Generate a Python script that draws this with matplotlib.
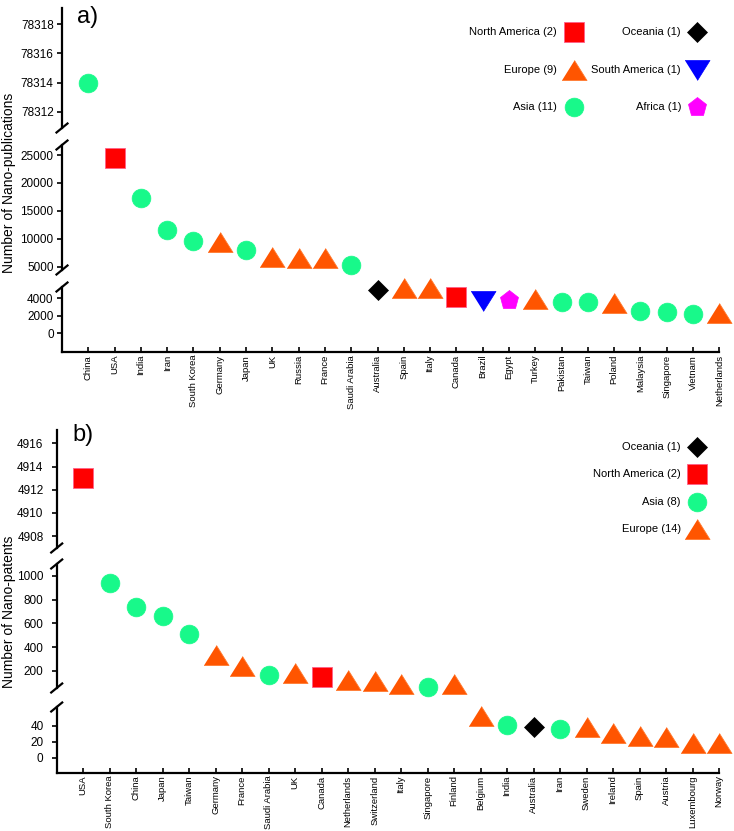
import matplotlib
matplotlib.use("Agg")
import matplotlib.pyplot as plt
from matplotlib.lines import Line2D

plt.rcParams['font.family'] = ['Liberation Sans', 'DejaVu Sans']

# ---------------- data ----------------
countries_a = ['China', 'USA', 'India', 'Iran', 'South Korea', 'Germany', 'Japan', 'UK',
               'Russia', 'France', 'Saudi Arabia', 'Australia', 'Spain', 'Italy', 'Canada',
               'Brazil', 'Egypt', 'Turkey', 'Pakistan', 'Taiwan', 'Poland', 'Malaysia',
               'Singapore', 'Vietnam', 'Netherlands']
values_a = [78314, 24400, 17250, 11560, 9640, 9340, 7970, 6700, 6530, 6530, 5300, 4900,
            5100, 5100, 4170, 3620, 3770, 3890, 3500, 3500, 3430, 2510, 2370, 2250, 2290]
regions_a = ['Asia', 'North America', 'Asia', 'Asia', 'Asia', 'Europe', 'Asia', 'Europe',
             'Europe', 'Europe', 'Asia', 'Oceania', 'Europe', 'Europe', 'North America',
             'South America', 'Africa', 'Europe', 'Asia', 'Asia', 'Europe', 'Asia', 'Asia',
             'Asia', 'Europe']

countries_b = ['USA', 'South Korea', 'China', 'Japan', 'Taiwan', 'Germany', 'France',
               'Saudi Arabia', 'UK', 'Canada', 'Netherlands', 'Switzerland', 'Italy',
               'Singapore', 'Finland', 'Belgium', 'India', 'Australia', 'Iran', 'Sweden',
               'Ireland', 'Spain', 'Austria', 'Luxembourg', 'Norway']
values_b = [4913, 938, 738, 665, 510, 335, 243, 170, 183, 152, 121, 118, 93, 68, 90,
            52.5, 41.7, 38.8, 36.7, 39, 31.6, 27.4, 25.9, 18.4, 18.4]
regions_b = ['North America', 'Asia', 'Asia', 'Asia', 'Asia', 'Europe', 'Europe', 'Asia',
             'Europe', 'North America', 'Europe', 'Europe', 'Europe', 'Asia', 'Europe',
             'Europe', 'Asia', 'Oceania', 'Asia', 'Europe', 'Europe', 'Europe', 'Europe',
             'Europe', 'Europe']

legend_a = [('North America (2)', 'North America'), ('Europe (9)', 'Europe'),
            ('Asia (11)', 'Asia'), ('Oceania (1)', 'Oceania'),
            ('South America (1)', 'South America'), ('Africa (1)', 'Africa')]
legend_b = [('Oceania (1)', 'Oceania'), ('North America (2)', 'North America'),
            ('Asia (8)', 'Asia'), ('Europe (14)', 'Europe')]

# ---------------- styles ----------------
TRI_UP = [(-1.25, -1), (1.25, -1), (0, 1)]
TRI_DN = [(-1.25, 1), (1.25, 1), (0, -1)]
style = {
    'Asia':          dict(marker='o', ms=13.5, mfc='#18F98A', mec='#18F98A', mew=0.5),
    'Europe':        dict(marker=TRI_UP, ms=18, mfc='#FF5500', mec='#FF7A30', mew=0.6),
    'North America': dict(marker='s', ms=14, mfc='#FF0000', mec='#FF6088', mew=0.6),
    'Oceania':       dict(marker='D', ms=9.7, mfc='#000000', mec='#000000', mew=0.5),
    'South America': dict(marker=TRI_DN, ms=18, mfc='#0000FF', mec='#0000FF', mew=0.5),
    'Africa':        dict(marker='p', ms=14, mfc='#FF00FF', mec='#FF00FF', mew=0.5),
}

W, H = 734, 831
fig = plt.figure(figsize=(W / 100, H / 100), dpi=100)


def fx(px):
    return px / W


def fy(py):
    return 1 - py / H


def panel(countries, values, regions, left, right, segs, ylabel, ylabel_y,
          tag, tag_xy, tick_pad):
    axes = []
    for (top, bot, ylim, ticks) in segs:
        ax = fig.add_axes([fx(left), fy(bot), fx(right - left), (bot - top) / H])
        ax.set_xlim(0, len(countries))
        ax.set_ylim(*ylim)
        ax.set_yticks(ticks)
        ax.set_yticklabels([str(t) for t in ticks])
        for s in ['top', 'right', 'bottom']:
            ax.spines[s].set_visible(False)
        ax.spines['left'].set_linewidth(1.6)
        ax.tick_params(axis='y', direction='out', length=3.5, width=1.2,
                       labelsize=8.5, pad=tick_pad)
        ax.set_facecolor('none')
        axes.append(ax)
    # bottom segment carries x axis
    low = axes[-1]
    low.spines['bottom'].set_visible(True)
    low.spines['bottom'].set_linewidth(1.6)
    low.set_xticks(range(1, len(countries) + 1))
    low.set_xticklabels(countries, rotation=90, fontsize=6.8)
    low.tick_params(axis='x', direction='in', length=3.5, width=1.2, pad=2)
    for ax in axes[:-1]:
        ax.set_xticks([])
    # markers: each point goes into the lowest segment whose range contains it
    segs_bottom_first = list(reversed(axes))
    for i, (v, r) in enumerate(zip(values, regions)):
        for ax in segs_bottom_first:
            lo, hi = ax.get_ylim()
            if lo <= v <= hi:
                st = style[r]
                ax.plot([i + 1], [v], linestyle='none', marker=st['marker'],
                        markersize=st['ms'], markerfacecolor=st['mfc'],
                        markeredgecolor=st['mec'], markeredgewidth=st['mew'],
                        clip_on=False, zorder=3)
                break
    # break marks
    for k in range(len(segs) - 1):
        for yb in (segs[k][1], segs[k + 1][0]):
            fig.add_artist(Line2D([fx(left - 5.5), fx(left + 5.5)],
                                  [fy(yb + 4.5), fy(yb - 4.5)],
                                  color='black', lw=1.6))
    fig.text(fx(9), fy(ylabel_y), ylabel, rotation=90, ha='center', va='center',
             fontsize=10)
    fig.text(fx(tag_xy[0]), fy(tag_xy[1]), tag, ha='left', va='center', fontsize=17)
    return axes


def legend_entries(entries, positions):
    for (label, reg), (tx, mx, y) in zip(entries, positions):
        st = style[reg]
        fig.text(fx(tx), fy(y), label, ha='right', va='center', fontsize=8)
        fig.add_artist(Line2D([fx(mx)], [fy(y)], linestyle='none', marker=st['marker'],
                              markersize=st['ms'], markerfacecolor=st['mfc'],
                              markeredgecolor=st['mec'], markeredgewidth=st['mew']))


segs_a = [
    (8, 128, (78310.9, 78319.1), [78312, 78314, 78316, 78318]),
    (145, 270, (4400, 26800), [5000, 10000, 15000, 20000, 25000]),
    (287, 352, (-2100, 5250), [0, 2000, 4000]),
]
segs_b = [
    (430, 548, (4906.97, 4917.15), [4908, 4910, 4912, 4914, 4916]),
    (564, 688, (57, 1100), [200, 400, 600, 800, 1000]),
    (707, 772.7, (-18.75, 63.75), [0, 20, 40]),
]

panel(countries_a, values_a, regions_a, 62, 719.3, segs_a,
      'Number of Nano-publications', 183, 'a)', (77, 17), 2.5)
panel(countries_b, values_b, regions_b, 56.7, 719, segs_b,
      'Number of Nano-patents', 612, 'b)', (72, 435), 6)

legend_entries(legend_a, [(557, 574, 32), (557, 574, 70), (557, 574, 107),
                          (681, 697, 32), (681, 697, 70), (681, 697, 107)])
legend_entries(legend_b, [(681, 697, 447), (681, 697, 474), (681, 697, 502),
                          (681, 697, 529)])

fig.savefig('out.png', dpi=100)
